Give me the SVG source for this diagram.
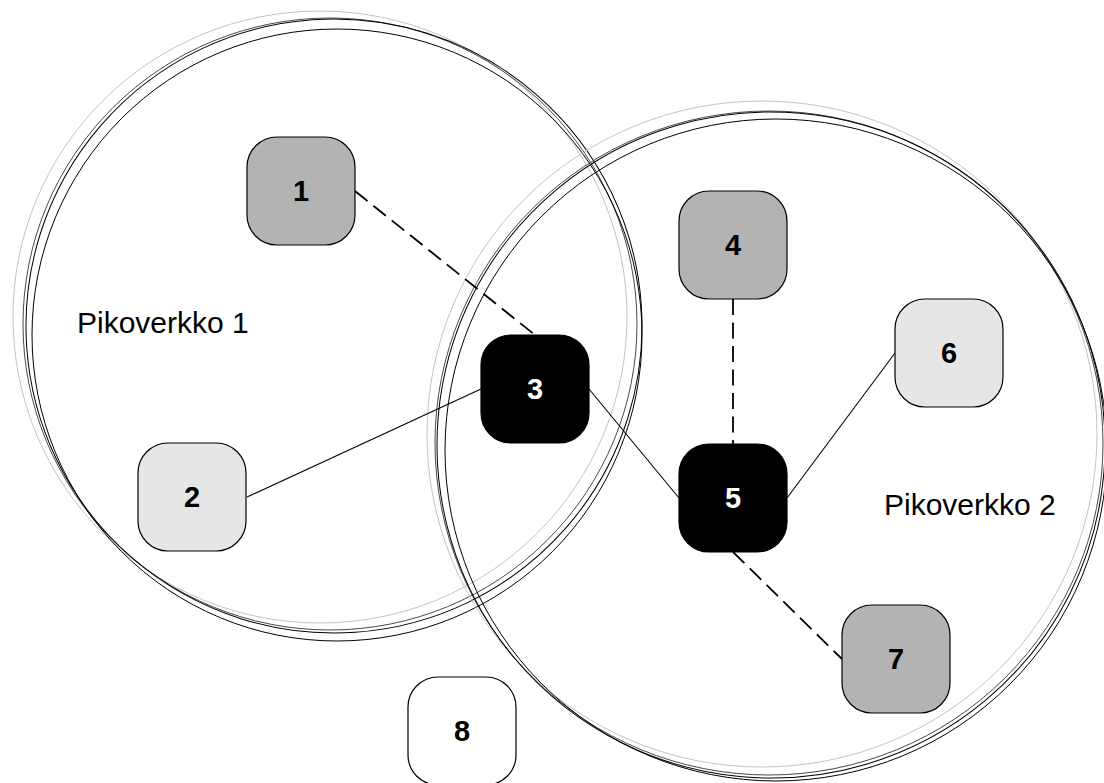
<svg xmlns="http://www.w3.org/2000/svg" width="1104" height="783" viewBox="0 0 1104 783">
<style>
.ring{fill:none}
.g1{stroke:#c4c4c4;stroke-width:1}
.g2{stroke:#4a4a4a;stroke-width:1}
.g3{stroke:#000;stroke-width:1}
.node rect{stroke:#000;stroke-width:1.2}
.num{font-family:"Liberation Sans",Arial,sans-serif;font-weight:bold;font-size:29px;text-anchor:middle}
.lbl{font-family:"Liberation Sans",Arial,sans-serif;font-size:30px}
.solid{stroke:#000;stroke-width:1.1;fill:none}
.dash{stroke:#000;stroke-width:1.8;fill:none;stroke-dasharray:16 7.5}
</style>
<rect width="1104" height="783" fill="#fff"/>
<g id="piconet1">
<ellipse class="ring g1" cx="320" cy="317" rx="307" ry="306"/>
<ellipse class="ring g2" cx="330" cy="324" rx="307" ry="306"/>
<ellipse class="ring g3" cx="334" cy="326" rx="308" ry="307" transform="rotate(-4 334 326)"/>
<ellipse class="ring g3" cx="337" cy="335" rx="305" ry="306"/>
<text class="lbl" x="77" y="333">Pikoverkko 1</text>
</g>
<g id="piconet2">
<ellipse class="ring g1" cx="762" cy="434" rx="335" ry="333"/>
<ellipse class="ring g2" cx="769" cy="443" rx="334" ry="332"/>
<ellipse class="ring g3" cx="771" cy="445" rx="334" ry="333" transform="rotate(5 771 445)"/>
<ellipse class="ring g3" cx="776" cy="450" rx="331" ry="331"/>
<text class="lbl" x="884" y="515">Pikoverkko 2</text>
</g>
<g id="connectors">
<line class="dash" x1="355" y1="191" x2="535" y2="335"/>
<line class="solid" x1="247" y1="497" x2="481" y2="389"/>
<line class="solid" x1="589" y1="389" x2="679" y2="498"/>
<line class="dash" x1="733" y1="299" x2="733" y2="444"/>
<line class="solid" x1="787" y1="498" x2="895" y2="353"/>
<line class="dash" x1="733" y1="552" x2="842" y2="659"/>
</g>
<g id="node1" class="node"><rect x="247" y="137" width="108" height="108" rx="30" fill="#b3b3b3"/><text class="num" x="301" y="201">1</text></g>
<g id="node2" class="node"><rect x="138" y="443" width="108" height="108" rx="30" fill="#e6e6e6"/><text class="num" x="192" y="507">2</text></g>
<g id="node3" class="node"><rect x="481" y="335" width="108" height="108" rx="30" fill="#000"/><text class="num" x="535" y="399" fill="#fff">3</text></g>
<g id="node4" class="node"><rect x="679" y="191" width="108" height="108" rx="30" fill="#b3b3b3"/><text class="num" x="733" y="255">4</text></g>
<g id="node5" class="node"><rect x="679" y="444" width="108" height="108" rx="30" fill="#000"/><text class="num" x="733" y="508" fill="#fff">5</text></g>
<g id="node6" class="node"><rect x="895" y="299" width="108" height="108" rx="30" fill="#e6e6e6"/><text class="num" x="949" y="363">6</text></g>
<g id="node7" class="node"><rect x="842" y="605" width="108" height="108" rx="30" fill="#b3b3b3"/><text class="num" x="896" y="669">7</text></g>
<g id="node8" class="node"><rect x="408" y="677" width="108" height="108" rx="30" fill="#fff"/><text class="num" x="462" y="741">8</text></g>
</svg>
